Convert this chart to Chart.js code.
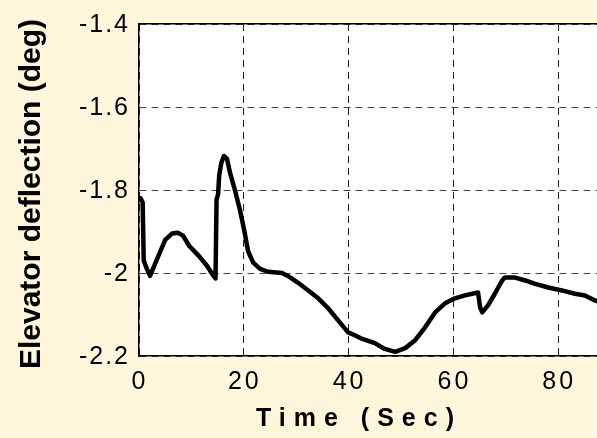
<!DOCTYPE html>
<html>
<head>
<meta charset="utf-8">
<script src="https://cdn.jsdelivr.net/npm/chart.js@4/dist/chart.umd.min.js"></script>
<style>
  html, body { margin: 0; padding: 0; }
  body {
    width: 597px; height: 438px; overflow: hidden;
    background-color: #fff2ee;
    background-image: radial-gradient(circle, #fffbc9 58%, transparent 62%);
    background-size: 8px 8px;
  }
  #wrap { position: relative; width: 597px; height: 438px; }
</style>
</head>
<body>
<div id="wrap"><canvas id="chart" width="597" height="438"></canvas></div>
<script>
'use strict';

// time (s) and elevator deflection (deg)
const times = [0.3, 0.7, 0.9, 1.5, 2.1, 3.0, 4.0, 5.0, 6.3, 7.4, 8.4, 9.6, 11.5, 13.0, 14.1, 14.6,
  14.8, 15.1, 15.3, 15.7, 16.2, 16.8, 17.4, 18.3, 19.3, 20.2, 20.8, 21.8, 23.1, 24.6, 27.3, 28.4,
  30.3, 32.3, 34.2, 36.1, 38.0, 39.9, 41.2, 42.6, 45.0, 46.9, 48.9, 50.8, 52.7, 54.6, 56.5, 58.4,
  60.3, 62.2, 64.7, 65.1, 65.5, 66.6, 67.9, 69.3, 69.8, 71.8, 73.7, 75.6, 78.1, 80.7, 83.2, 85.1,
  87.0, 88.0]
const deflection = [-1.82, -1.83, -1.97, -1.99, -2.007, -1.98, -1.95, -1.92, -1.905, -1.903, -1.91, -1.935, -1.96, -1.983, -2.005, -2.013,
  -1.823, -1.81, -1.765, -1.735, -1.718, -1.725, -1.76, -1.8, -1.85, -1.905, -1.947, -1.975, -1.99, -1.997, -2.0, -2.007,
  -2.023, -2.042, -2.061, -2.085, -2.114, -2.143, -2.15, -2.159, -2.169, -2.183, -2.19, -2.181, -2.162, -2.131, -2.095, -2.073,
  -2.061, -2.054, -2.047, -2.083, -2.095, -2.078, -2.05, -2.018, -2.011, -2.011, -2.018, -2.026, -2.035, -2.042, -2.05, -2.054,
  -2.066, -2.07]

const xTicks = [0, 20, 40, 60, 80]
const yTicks = [-2.2, -2, -1.8, -1.6, -1.4]
const xRange = [0, 87.4]
const yRange = [-2.2, -1.4]

var points = []
for (var i = 0; i < times.length; i++) {
  points.push({ x: times[i], y: deflection[i] })
}

// white plot area
var plotBackground = {
  id: 'plotBackground',
  beforeDraw: function(chart) {
    var a = chart.chartArea
    var ctx = chart.ctx
    ctx.save()
    ctx.fillStyle = '#ffffff'
    ctx.fillRect(a.left, a.top, a.right - a.left, a.bottom - a.top)
    ctx.restore()
  }
}

// wrap a scale's text drawing with letter spacing and a small shift
function tweak(scale, method, spacing, dx, dy) {
  var key = '_tweaked_' + method
  if (scale[key]) {
    return
  }
  var orig = scale[method]
  scale[method] = function() {
    var ctx = this.ctx
    ctx.save()
    ctx.letterSpacing = spacing
    ctx.translate(dx, dy)
    orig.apply(this, arguments)
    ctx.restore()
  }
  scale[key] = true
}

var textTweaks = {
  id: 'textTweaks',
  beforeDraw: function(chart) {
    tweak(chart.scales.x, 'drawTitle', '8px', -9, 0)
    tweak(chart.scales.x, 'drawLabels', '3px', 1, 0)
    tweak(chart.scales.y, 'drawTitle', '0px', 0, 4)
    tweak(chart.scales.y, 'drawLabels', '2px', 0, 1)
  }
}

var ctx = document.getElementById('chart').getContext('2d')
new Chart(ctx, {
  type: 'line',
  data: {
    datasets: [{
      data: points,
      borderColor: '#000000',
      borderWidth: 4.5,
      borderJoinStyle: 'round',
      borderCapStyle: 'round',
      pointRadius: 0,
      tension: 0
    }]
  },
  options: {
    responsive: false,
    animation: false,
    layout: { padding: { top: 21, right: 0, left: 0, bottom: 0 } },
    plugins: {
      legend: { display: false },
      tooltip: { enabled: false }
    },
    scales: {
      x: {
        type: 'linear',
        position: 'bottom',
        min: xRange[0],
        max: xRange[1],
        afterBuildTicks: function(scale) {
          scale.ticks = xTicks.map(function(v) { return { value: v } })
        },
        afterFit: function(scale) { scale.height = 82 },
        ticks: {
          color: '#000000',
          font: { family: 'Liberation Sans, Arial', size: 25 },
          padding: 11,
          maxRotation: 0
        },
        grid: {
          color: '#222222',
          lineWidth: 1,
          drawTicks: false
        },
        border: { display: true, color: '#000000', width: 1.5, dash: [7, 5] },
        title: {
          display: true,
          text: 'Time (Sec)',
          color: '#000000',
          font: { family: 'Liberation Sans, Arial', size: 25, weight: 'bold' },
          padding: { top: 0, bottom: 4 }
        }
      },
      xTop: {
        type: 'linear',
        position: 'top',
        min: xRange[0],
        max: xRange[1],
        afterFit: function(scale) { scale.height = 0 },
        ticks: { display: false },
        grid: { display: false, drawTicks: false },
        border: { display: true, color: '#000000', width: 1.5 }
      },
      y: {
        type: 'linear',
        min: yRange[0],
        max: yRange[1],
        afterBuildTicks: function(scale) {
          scale.ticks = yTicks.map(function(v) { return { value: v } })
        },
        afterFit: function(scale) { scale.width = 139 },
        ticks: {
          color: '#000000',
          font: { family: 'Liberation Sans, Arial', size: 25 },
          padding: 9,
          callback: function(value) {
            return String(Math.round(value * 10) / 10)
          }
        },
        grid: {
          color: '#444444',
          lineWidth: 1,
          drawTicks: false
        },
        border: { display: true, color: '#000000', width: 1.5, dash: [7, 5] },
        title: {
          display: true,
          text: 'Elevator deflection (deg)',
          color: '#000000',
          font: { family: 'Liberation Sans, Arial', size: 30, weight: 'bold' },
          padding: { top: 14, bottom: 0 }
        }
      }
    }
  },
  plugins: [plotBackground, textTweaks]
})
</script>
</body>
</html>
